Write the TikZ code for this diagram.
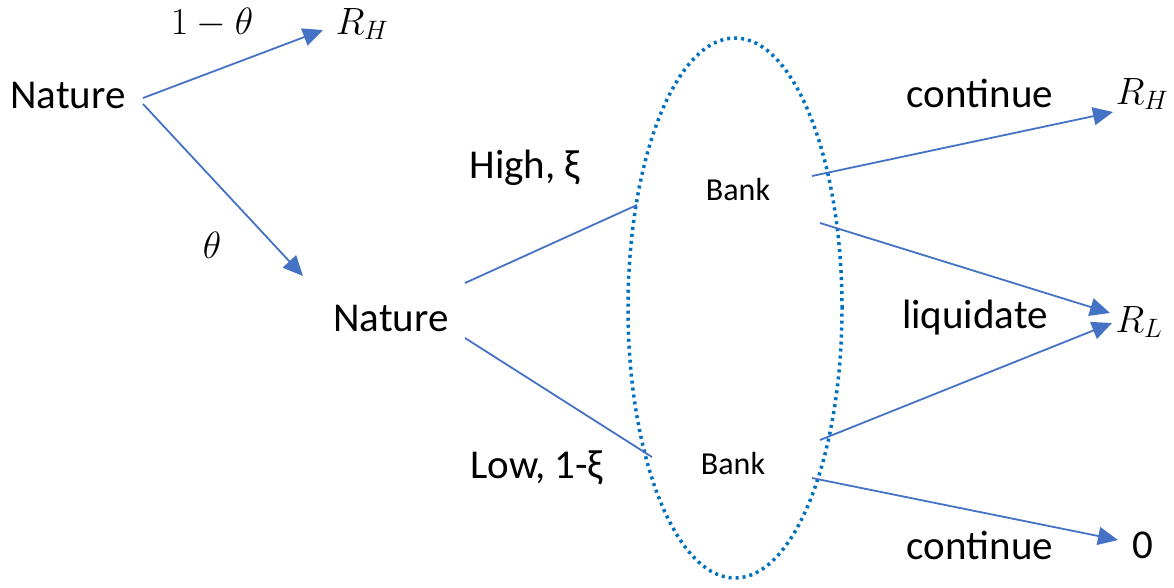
\RequirePackage{fix-cm}
\documentclass[tikz,border=0pt]{standalone}
\usepackage{fontspec}
\setmainfont{Carlito}
\usetikzlibrary{arrows.meta,shapes.geometric}
\definecolor{arr}{HTML}{4472C4}
\definecolor{ellc}{HTML}{0070C0}
\begin{document}
\begin{tikzpicture}[x=1pt,y=-1pt,
  lbl/.style={font=\fontsize{41}{47}\selectfont, inner sep=0pt},
  mlbl/.style={font=\fontsize{38}{44}\selectfont, inner sep=0pt},
  bank/.style={font=\fontsize{32}{38}\selectfont, inner sep=0pt},
  conn/.style={draw=arr, line width=1.8pt},
  arrow/.style={conn, -{Triangle[length=20pt,width=18pt]}},
  group/.style={draw=ellc, ellipse, line width=3.5pt, dash pattern=on 3pt off 4pt, inner sep=0pt}]
\useasboundingbox (0,0) rectangle (1174,587);

\node[group, minimum width=214pt, minimum height=540pt] (grp) at (735,308) {};

\node[lbl] (n1) at (68,95) {Nature};
\node[mlbl] (lab1) at (212,23) {$1-\theta$};
\node[mlbl] (rh1) at (362,24) {$R_H$};
\node[mlbl] (th) at (212,245) {$\theta$};
\node[lbl] (n2) at (391,318) {Nature};
\node[lbl] (high) at (525,168) {High, ξ};
\node[lbl] (low) at (537,468) {Low, 1-ξ};
\node[bank] (bank1) at (738,190) {Bank};
\node[bank] (bank2) at (733,463) {Bank};
\node[lbl] (cont1) at (980,93) {continue};
\node[mlbl] (rh2) at (1142,94) {$R_H$};
\node[lbl] (liq) at (975,318) {liquidate};
\node[mlbl] (rl) at (1139,322) {$R_L$};
\node[lbl] (cont2) at (980,545) {continue};
\node[lbl] (zero) at (1143,545) {0};

\draw[arrow] ([shift={(75,3)}]n1.center) -- ([shift={(-39,6)}]rh1.center);
\draw[arrow] ([shift={(75,9)}]n1.center) -- ([shift={(-88,-42)}]n2.center);
\draw[conn] ([shift={(74,-35)}]n2.center) -- ([shift={(-101,15)}]bank1.center);
\draw[conn] ([shift={(74,20)}]n2.center) -- ([shift={(-81,-6)}]bank2.center);
\draw[arrow] ([shift={(74,-14)}]bank1.center) -- ([shift={(-29,18)}]rh2.center);
\draw[arrow] ([shift={(82,33)}]bank1.center) -- ([shift={(-29,-9)}]rl.center);
\draw[arrow] ([shift={(87,-23)}]bank2.center) -- ([shift={(-27,1)}]rl.center);
\draw[arrow] ([shift={(79,15)}]bank2.center) -- ([shift={(-25,-5)}]zero.center);
\end{tikzpicture}
\end{document}
